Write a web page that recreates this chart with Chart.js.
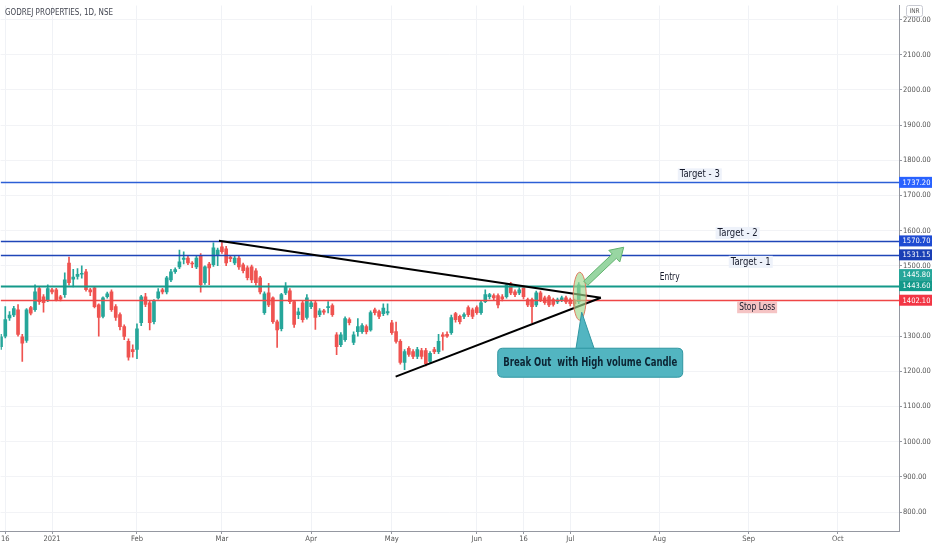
<!DOCTYPE html>
<html>
<head>
<meta charset="utf-8">
<title>GODREJ PROPERTIES, 1D, NSE</title>
<script src="https://cdn.jsdelivr.net/npm/chart.js@4.4.0/dist/chart.umd.min.js"></script>
<style>
  html, body { margin: 0; padding: 0; background: #fff; }
  #wrap { width: 932px; height: 550px; position: relative; }
</style>
</head>
<body>
<div id="wrap"><canvas id="myChart"></canvas></div>
<script>
// daily candles, 15 Dec 2020 .. early Jul 2021
var opens = [1270,1300,1352,1360,1375,1298,1288,1381,1375,1435,1412,1404,1432,1432,1412,1418,1508,1462,1470,1476,
  1483,1432,1437,1389,1356,1412,1426,1384,1361,1327,1285,1262,1262,1338,1412,1395,1341,1409,1432,1426,
  1460,1483,1497,1518,1522,1508,1497,1528,1452,1505,1503,1531,1554,1548,1525,1508,1522,1503,1494,1497,
  1486,1466,1367,1423,1409,1341,1321,1423,1429,1398,1361,1395,1353,1384,1395,1361,1372,1381,1387,1304,
  1276,1290,1347,1282,1313,1313,1327,1318,1375,1370,1364,1366,1338,1313,1285,1225,1265,1256,1242,1259,
  1259,1228,1262,1256,1304,1305,1310,1364,1356,1356,1381,1375,1381,1367,1398,1412,1415,1415,1412,1412,
  1449,1426,1423,1437,1404,1404,1389,1423,1409,1412,1404,1397,1403,1409,1403,1400,1398];
var highs = [1305,1384,1370,1385,1390,1305,1378,1385,1446,1440,1418,1446,1436,1436,1416,1480,1525,1490,1492,1500,
  1490,1436,1440,1392,1412,1425,1432,1390,1366,1332,1292,1275,1335,1416,1422,1400,1404,1435,1436,1470,
  1490,1494,1545,1540,1528,1512,1528,1535,1500,1510,1565,1550,1568,1555,1530,1530,1528,1508,1500,1502,
  1492,1470,1426,1450,1412,1346,1422,1452,1435,1402,1380,1400,1418,1402,1400,1378,1376,1398,1392,1310,
  1310,1355,1352,1312,1350,1336,1332,1372,1380,1374,1392,1392,1345,1340,1290,1262,1270,1262,1268,1265,
  1265,1256,1268,1305,1310,1312,1360,1368,1360,1366,1386,1380,1386,1400,1432,1422,1420,1420,1418,1450,
  1453,1432,1438,1442,1408,1408,1428,1428,1414,1416,1408,1408,1414,1414,1408,1405,1452];
var lows = [1262,1295,1345,1355,1300,1228,1282,1360,1370,1390,1368,1398,1420,1400,1400,1410,1445,1440,1462,1465,
  1428,1415,1380,1300,1352,1408,1370,1345,1318,1290,1232,1240,1236,1330,1384,1318,1335,1405,1420,1420,
  1455,1478,1492,1505,1503,1495,1492,1425,1447,1446,1498,1500,1535,1500,1512,1503,1490,1480,1460,1452,
  1445,1420,1362,1384,1336,1268,1315,1418,1392,1325,1350,1340,1348,1378,1319,1355,1362,1366,1356,1247,
  1270,1285,1332,1276,1300,1308,1306,1314,1360,1350,1358,1360,1305,1280,1220,1205,1242,1236,1236,1235,
  1215,1222,1250,1250,1260,1296,1305,1340,1335,1350,1355,1350,1362,1362,1395,1406,1404,1380,1400,1408,
  1418,1412,1418,1406,1384,1338,1384,1398,1390,1384,1385,1392,1398,1392,1386,1386,1392];
var closes = [1298,1347,1360,1378,1305,1280,1375,1365,1426,1398,1395,1435,1426,1404,1405,1460,1452,1468,1476,1478,
  1432,1426,1384,1353,1409,1420,1375,1353,1327,1299,1240,1256,1321,1412,1390,1338,1401,1426,1426,1466,
  1483,1489,1511,1522,1508,1505,1522,1446,1497,1494,1551,1545,1540,1508,1520,1522,1497,1486,1466,1460,
  1452,1426,1420,1389,1341,1318,1418,1440,1398,1333,1369,1347,1409,1395,1353,1372,1368,1384,1361,1270,
  1304,1350,1338,1304,1327,1330,1313,1367,1367,1356,1380,1370,1310,1285,1225,1256,1248,1242,1262,1242,
  1222,1251,1256,1285,1299,1300,1353,1347,1341,1361,1361,1356,1367,1395,1418,1418,1409,1389,1406,1446,
  1423,1418,1432,1412,1389,1384,1423,1404,1395,1389,1390,1403,1409,1397,1392,1392,1446];

// bar index of each date label on the time axis
var tickPos = [1, 12, 32, 52, 73, 92, 112, 123, 134, 155, 176, 197];
var tickLabels = ["16", "2021", "Feb", "Mar", "Apr", "May", "Jun", "16", "Jul", "Aug", "Sep", "Oct"];
var priceTicks = [800, 900, 1000, 1100, 1200, 1300, 1400, 1500, 1600, 1700, 1800, 1900, 2000, 2100, 2200];

// drawn levels
var levelValues = [1737.20, 1570.70, 1531.15, 1443.60, 1402.10];
var levelNames = ["Target - 3", "Target - 2", "Target - 1", "Entry", "Stop Loss"];
var lastPrice = 1445.80;

// triangle lines: [bar index, price]
var trendDown = [[51.3, 1571], [141.2, 1409]];
var trendUp = [[92.9, 1185], [141.2, 1409]];
var breakoutBar = 136;
var calloutText = "Break Out  with High volume Candle";

var upColor = "#26a69a";
var downColor = "#ef5350";
var FONT = "'Liberation Sans Narrow', 'DejaVu Sans Condensed', 'Noto Sans', sans-serif";

var idx = opens.map(function (o, i) { return i; });
var candleColors = idx.map(function (i) { return closes[i] >= opens[i] ? upColor : downColor; });

var lineColors = ["#2c5fd6", "#1f45b8", "#1f45b8", "#14998a", "#ef4646"];
var lineWidths = [1.6, 1.6, 1.6, 1.8, 1.4];
var tagColors = ["#2962ff", "#1e4bd2", "#1a3fb5", "#14998a", "#f23645"];
// label anchor: bar index and pixel offset from its line
var nameSpots = [[164.5, -8], [173.4, -8], [176.5, 7], [157.4, -9], [178, 7]];
var nameBgs = ["#eef2fa", "#eef2fa", "#eef2fa", "#ffffff", "#f5c4c4"];

function roundRect(ctx, x, y, w, h, r) {
  ctx.beginPath();
  ctx.moveTo(x + r, y);
  ctx.lineTo(x + w - r, y);
  ctx.quadraticCurveTo(x + w, y, x + w, y + r);
  ctx.lineTo(x + w, y + h - r);
  ctx.quadraticCurveTo(x + w, y + h, x + w - r, y + h);
  ctx.lineTo(x + r, y + h);
  ctx.quadraticCurveTo(x, y + h, x, y + h - r);
  ctx.lineTo(x, y + r);
  ctx.quadraticCurveTo(x, y, x + r, y);
  ctx.closePath();
}

var overlay = {
  id: "overlay",
  afterDatasetsDraw: function (chart) {
    var ctx = chart.ctx, xs = chart.scales.x, ys = chart.scales.y, a = chart.chartArea;
    ctx.save();
    ctx.beginPath();
    ctx.rect(a.left, a.top, a.right - a.left, a.bottom - a.top);
    ctx.clip();

    // horizontal levels
    levelValues.forEach(function (v, k) {
      var y = Math.round(ys.getPixelForValue(v)) + 0.5;
      ctx.strokeStyle = lineColors[k];
      ctx.lineWidth = lineWidths[k];
      ctx.beginPath();
      ctx.moveTo(a.left, y);
      ctx.lineTo(a.right, y);
      ctx.stroke();
    });

    // level names
    ctx.font = "10px " + FONT;
    ctx.textAlign = "center";
    ctx.textBaseline = "middle";
    levelNames.forEach(function (name, k) {
      var x = xs.getPixelForValue(nameSpots[k][0]);
      var y = ys.getPixelForValue(levelValues[k]) + nameSpots[k][1];
      var w = Math.min(ctx.measureText(name).width, name.length * 4) + 4;
      ctx.fillStyle = nameBgs[k];
      ctx.fillRect(x - w / 2, y - 6, w, 12);
      ctx.fillStyle = "#161a2b";
      ctx.fillText(name, x, y + 0.5, w - 4);
    });

    // triangle
    ctx.strokeStyle = "#000";
    ctx.lineWidth = 2;
    [trendDown, trendUp].forEach(function (t) {
      ctx.beginPath();
      ctx.moveTo(xs.getPixelForValue(t[0][0]), ys.getPixelForValue(t[0][1]));
      ctx.lineTo(xs.getPixelForValue(t[1][0]), ys.getPixelForValue(t[1][1]));
      ctx.stroke();
    });

    // breakout candle marker, placed relative to the stop-loss line
    var bx = xs.getPixelForValue(breakoutBar);
    var sl = ys.getPixelForValue(levelValues[4]);
    var by = sl - 4;
    ctx.beginPath();
    ctx.ellipse(bx + 1, by, 6.5, 24, 0, 0, Math.PI * 2);
    ctx.fillStyle = "rgba(160, 215, 140, 0.65)";
    ctx.fill();
    ctx.strokeStyle = "#e07a5f";
    ctx.lineWidth = 1;
    ctx.stroke();

    // up arrow
    var sx = bx + 7, sy = sl - 17, tx = bx + 45, ty = sl - 53;
    var dx = tx - sx, dy = ty - sy, len = Math.sqrt(dx * dx + dy * dy);
    var ux = dx / len, uy = dy / len, nx = -uy, ny = ux;
    var hx = tx - ux * 13, hy = ty - uy * 13;
    ctx.beginPath();
    ctx.moveTo(sx + nx * 3, sy + ny * 3);
    ctx.lineTo(hx + nx * 3, hy + ny * 3);
    ctx.lineTo(hx + nx * 8, hy + ny * 8);
    ctx.lineTo(tx, ty);
    ctx.lineTo(hx - nx * 8, hy - ny * 8);
    ctx.lineTo(hx - nx * 3, hy - ny * 3);
    ctx.lineTo(sx - nx * 3, sy - ny * 3);
    ctx.closePath();
    ctx.fillStyle = "#98d6a2";
    ctx.fill();
    ctx.strokeStyle = "#62b36f";
    ctx.lineWidth = 1;
    ctx.stroke();

    // callout
    var boxL = bx - 81, boxT = sl + 48, boxW = 185, boxH = 29;
    ctx.beginPath();
    ctx.moveTo(bx + 3, sl + 12);
    ctx.lineTo(bx - 3, boxT + 2);
    ctx.lineTo(bx + 16, boxT + 2);
    ctx.closePath();
    ctx.fillStyle = "#52b5c1";
    ctx.fill();
    ctx.strokeStyle = "#2f96a1";
    ctx.stroke();
    roundRect(ctx, boxL, boxT, boxW, boxH, 5);
    ctx.fillStyle = "#52b5c1";
    ctx.fill();
    ctx.strokeStyle = "#2f96a1";
    ctx.stroke();
    ctx.fillStyle = "#0c2433";
    ctx.font = "bold 11.5px " + FONT;
    ctx.fillText(calloutText, boxL + boxW / 2, boxT + boxH / 2 + 0.5, 174);
    ctx.restore();
  },
  afterDraw: function (chart) {
    var ctx = chart.ctx, ys = chart.scales.y, a = chart.chartArea;
    ctx.save();
    // price tags on the axis
    ctx.font = "7.5px " + FONT;
    ctx.textAlign = "center";
    ctx.textBaseline = "middle";
    var tagX = a.right, tagW = chart.width - a.right;
    var tags = levelValues.map(function (v, k) {
      return { v: v, y: ys.getPixelForValue(v), c: tagColors[k] };
    });
    tags.splice(3, 0, { v: lastPrice, y: ys.getPixelForValue(levelValues[3]) - 11, c: "#26a69a" });
    tags.forEach(function (t) {
      ctx.fillStyle = t.c;
      ctx.fillRect(tagX, t.y - 5.5, tagW, 11);
      ctx.fillStyle = "#fff";
      ctx.fillText(t.v.toFixed(2), tagX + tagW / 2 + 1, t.y + 0.5, tagW - 3);
    });

    // title and currency badge
    ctx.textAlign = "left";
    ctx.fillStyle = "#434651";
    ctx.font = "9.5px " + FONT;
    ctx.fillText("GODREJ PROPERTIES, 1D, NSE", 5, 13, 108);
    ctx.strokeStyle = "#c8cad2";
    ctx.lineWidth = 1;
    roundRect(ctx, 906.5, 5.5, 16, 11, 2);
    ctx.stroke();
    ctx.fillStyle = "#555";
    ctx.font = "6.5px " + FONT;
    ctx.textAlign = "center";
    ctx.fillText("INR", 914.5, 11.5);
    ctx.restore();
  }
};

new Chart("myChart", {
  type: "bar",
  data: {
    datasets: [{
      data: idx.map(function (i) { return { x: i, y: [lows[i], highs[i]] }; }),
      backgroundColor: candleColors,
      barThickness: 1,
      grouped: false,
      order: 2
    }, {
      data: idx.map(function (i) { return { x: i, y: [opens[i], closes[i]] }; }),
      backgroundColor: candleColors,
      barThickness: 3,
      minBarLength: 1,
      grouped: false,
      order: 1
    }]
  },
  options: {
    responsive: true,
    maintainAspectRatio: false,
    animation: false,
    layout: { padding: 0 },
    plugins: { legend: { display: false }, tooltip: { enabled: false }, title: { display: false } },
    scales: {
      x: {
        type: "linear",
        offset: false,
        min: -0.1,
        max: 211.4,
        afterBuildTicks: function (scale) {
          scale.ticks = tickPos.map(function (v) { return { value: v }; });
        },
        afterFit: function (scale) { scale.height = 19; },
        grid: { color: "#f0f2f6", tickColor: "#9598a1", tickLength: 3, offset: false },
        border: { color: "#9598a1" },
        ticks: {
          autoSkip: false,
          maxRotation: 0,
          padding: 1,
          color: "#555",
          font: { size: 7.5, family: FONT },
          callback: function (v) {
            var k = tickPos.indexOf(v);
            return k < 0 ? "" : tickLabels[k];
          }
        }
      },
      y: {
        position: "right",
        min: 746,
        max: 2240,
        afterBuildTicks: function (scale) {
          scale.ticks = priceTicks.map(function (v) { return { value: v }; });
        },
        afterFit: function (scale) { scale.width = 33; },
        grid: { color: "#f2f3f6", tickColor: "#9598a1", tickLength: 3 },
        border: { color: "#9598a1" },
        ticks: {
          padding: 1,
          color: "#555",
          font: { size: 7.5, family: FONT },
          callback: function (v) { return v.toFixed(2); }
        }
      }
    }
  },
  plugins: [overlay]
});
</script>
</body>
</html>
